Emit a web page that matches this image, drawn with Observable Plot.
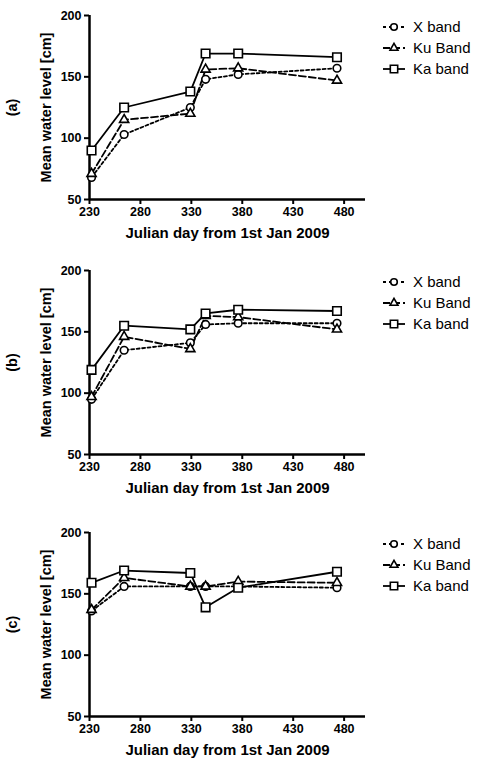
<!DOCTYPE html>
<html><head><meta charset="utf-8">
<script src="https://cdn.jsdelivr.net/npm/d3@7"></script>
<script src="https://cdn.jsdelivr.net/npm/@observablehq/plot@0.6"></script>
<style>
body{margin:0;background:#fff;font-family:"Liberation Sans",Arial,sans-serif;}
#root{position:relative;width:481px;height:763px;overflow:hidden;}
.panel{position:absolute;left:0;}
.legend{position:absolute;left:382px;font-size:15px;color:#000;}
.legend .row{display:flex;align-items:center;height:21px;}
.legend svg{margin-right:7px;}
</style></head><body><div id="root"></div>
<script>
// ---- data ----
const days = [232, 264, 329, 344, 376, 473];
const seriesNames = ["X band", "Ku Band", "Ka band"];
const panelLabels = ["(a)", "(b)", "(c)"];
const xTicks = [230, 280, 330, 380, 430, 480];
const yTicks = [50, 100, 150, 200];
const xTitle = "Julian day from 1st Jan 2009";
const yTitle = "Mean water level [cm]";

const xBandA  = [68, 103, 125, 148, 152, 157];
const kuBandA = [71, 115, 120, 156, 157, 147];
const kaBandA = [90, 125, 138, 169, 169, 166];

const xBandB  = [95, 135, 141, 156, 157, 157];
const kuBandB = [97, 146, 136, 163, 162, 152];
const kaBandB = [119, 155, 152, 165, 168, 167];

const xBandC  = [136, 156, 156, 156, 156, 155];
const kuBandC = [137, 163, 156, 156, 160, 159];
const kaBandC = [159, 169, 167, 139, 155, 168];

const panels = [
  [xBandA, kuBandA, kaBandA],
  [xBandB, kuBandB, kaBandB],
  [xBandC, kuBandC, kaBandC]
];

const styles = [
  {symbol: "circle", r: 3.8, dash: "3,2.5"},
  {symbol: "triangle", r: 3.4, dash: "7,3"},
  {symbol: "square", r: 4.8, dash: null}
];

const panelTops = [0, 255, 517];
const root = document.getElementById("root");

panels.forEach((vals, pi) => {
  const rows = [];
  vals.forEach((arr, si) => arr.forEach((v, i) => rows.push({series: seriesNames[si], si, day: days[i], value: v})));
  const marks = [
    Plot.axisY({ticks: yTicks, tickSize: 5, tickPadding: 3, label: null, strokeWidth: 2, fontSize: 12.5}),
    Plot.axisX({ticks: xTicks, tickSize: 5, tickPadding: 3, label: null, strokeWidth: 2, fontSize: 12.5}),
    Plot.ruleX([230], {strokeWidth: 2.5}),
    Plot.ruleY([50], {strokeWidth: 2.5})
  ];
  styles.forEach((st, si) => {
    const d = rows.filter(r => r.si === si);
    marks.push(Plot.line(d, {x: "day", y: "value", stroke: "black", strokeWidth: 1.8, strokeDasharray: st.dash || undefined}));
  });
  styles.forEach((st, si) => {
    const d = rows.filter(r => r.si === si);
    marks.push(Plot.dot(d, {x: "day", y: "value", symbol: st.symbol, r: st.r, fill: "white", stroke: "black", strokeWidth: 1.6}));
  });
  marks.push(Plot.text([yTitle], {text: d => d, frameAnchor: "left", textAnchor: "middle", dx: -43, rotate: -90, fontSize: 14.5, fontWeight: "bold"}));
  marks.push(Plot.text([panelLabels[pi]], {text: d => d, frameAnchor: "left", textAnchor: "middle", dx: -77, rotate: -90, fontSize: 14.5, fontWeight: "bold"}));
  marks.push(Plot.text([xTitle], {text: d => d, frameAnchor: "bottom", textAnchor: "middle", dy: 38, fontSize: 15, fontWeight: "bold"}));

  const chart = Plot.plot({
    width: 481, height: 250,
    marginTop: 15, marginBottom: 51, marginLeft: 89, marginRight: 116,
    x: {domain: [230, 501]},
    y: {domain: [50, 200]},
    style: {fontFamily: "'Liberation Sans', Arial, sans-serif", fontSize: "12.5px", fontWeight: "bold", background: "white", color: "black"},
    marks
  });
  chart.classList.add("panel");
  chart.style.top = panelTops[pi] + "px";
  root.appendChild(chart);

  // legend
  const lg = document.createElement("div");
  lg.className = "legend";
  lg.style.top = (panelTops[pi] + 16) + "px";
  styles.forEach((st, si) => {
    const row = document.createElement("div");
    row.className = "row";
    const svg = d3.create("svg").attr("width", 24).attr("height", 14);
    svg.append("line").attr("x1", 1).attr("x2", 23).attr("y1", 7).attr("y2", 7)
      .attr("stroke", "black").attr("stroke-width", 1.8)
      .attr("stroke-dasharray", si === 0 ? "3,3" : si === 1 ? "7,3" : null);
    const sym = {circle: d3.symbolCircle, triangle: d3.symbolTriangle, square: d3.symbolSquare}[st.symbol];
    svg.append("path").attr("transform", "translate(12,7)")
      .attr("d", d3.symbol(sym, Math.PI * st.r * st.r * 0.75)())
      .attr("fill", "white").attr("stroke", "black").attr("stroke-width", 1.6);
    row.appendChild(svg.node());
    const t = document.createElement("span");
    t.textContent = seriesNames[si];
    row.appendChild(t);
    lg.appendChild(row);
  });
  root.appendChild(lg);
});
</script>
</body></html>
